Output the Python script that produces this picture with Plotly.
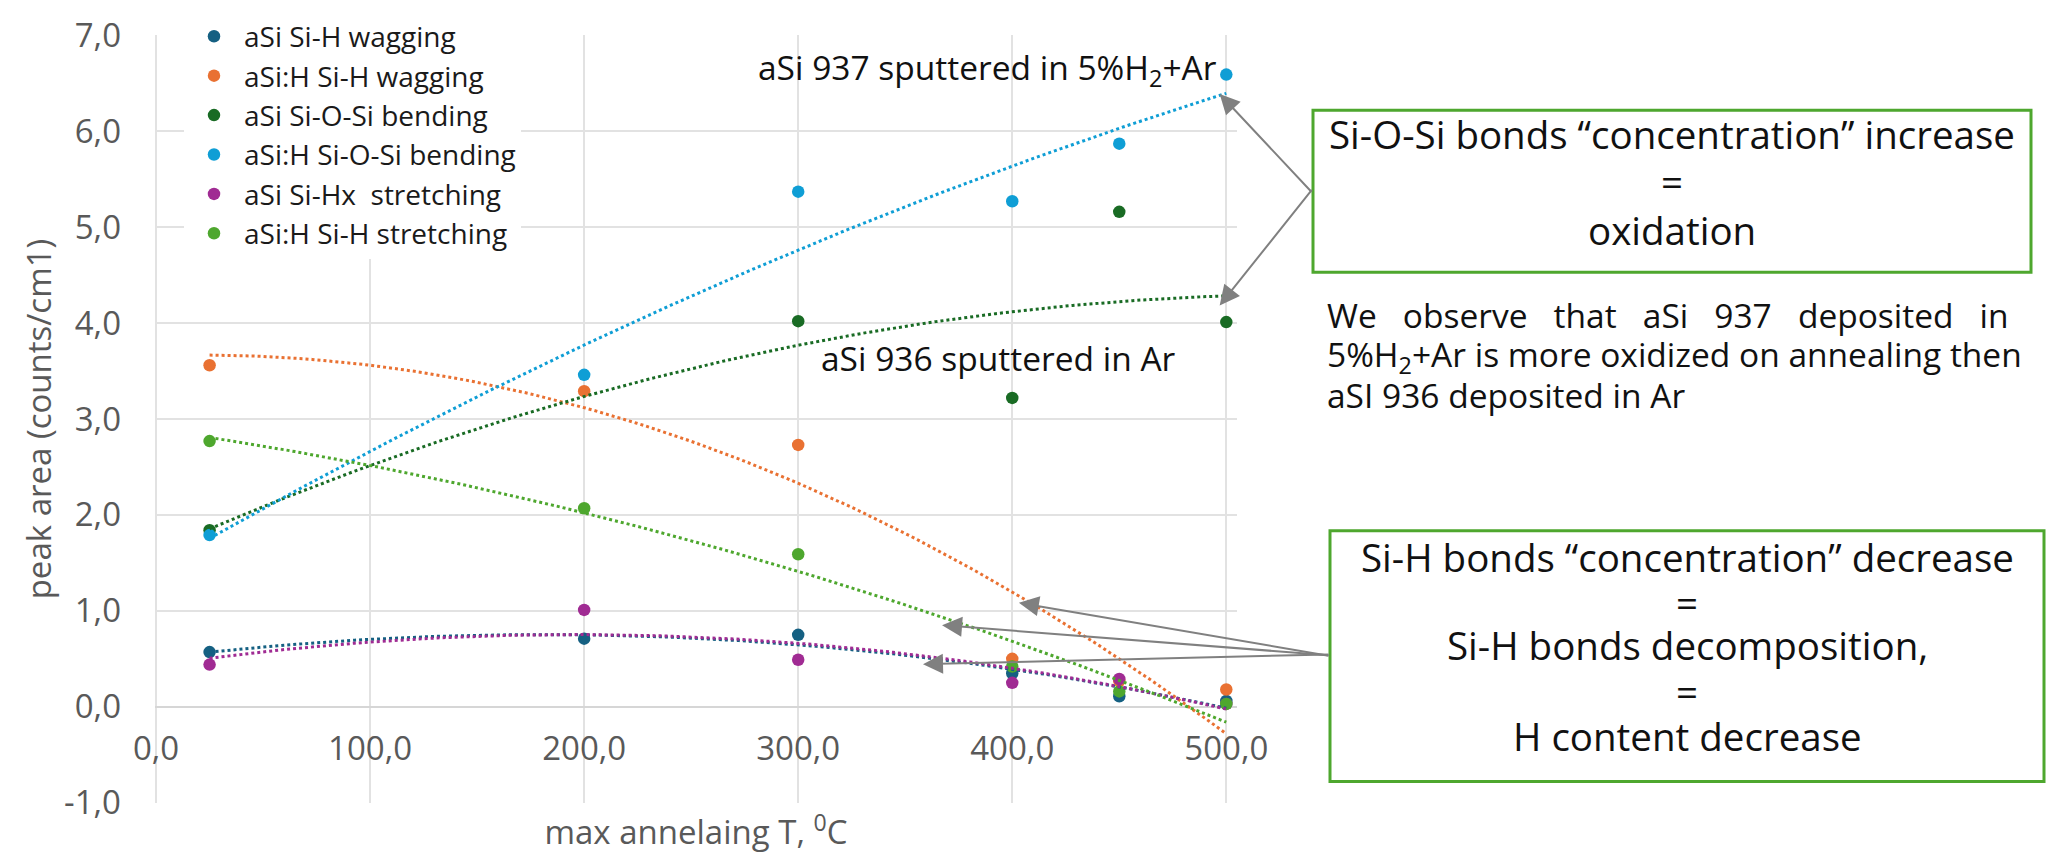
import numpy as np
import plotly.graph_objects as go

# ---------------- data ----------------
temps = [25, 200, 300, 400, 450, 500]

series_names = [
    "aSi Si-H wagging",
    "aSi:H Si-H wagging",
    "aSi Si-O-Si bending",
    "aSi:H Si-O-Si bending",
    "aSi Si-Hx  stretching",
    "aSi:H Si-H stretching",
]
asi_sih_wagging = [0.57, 0.71, 0.75, 0.35, 0.11, 0.06]
asih_sih_wagging = [3.56, 3.29, 2.73, 0.50, 0.27, 0.18]
asi_siosi_bending = [1.84, None, 4.02, 3.22, 5.16, 4.01]
asih_siosi_bending = [1.79, 3.46, 5.37, 5.27, 5.87, 6.59]
asi_sihx_stretching = [0.44, 1.01, 0.49, 0.25, 0.29, 0.03]
asih_sih_stretching = [2.77, 2.07, 1.59, 0.42, 0.16, 0.03]

series_values = [
    asi_sih_wagging,
    asih_sih_wagging,
    asi_siosi_bending,
    asih_siosi_bending,
    asi_sihx_stretching,
    asih_sih_stretching,
]
colors = ["#156082", "#E97132", "#196B24", "#0F9ED5", "#A02B93", "#4EA72E"]

x_ticks = [0, 100, 200, 300, 400, 500]
y_ticks = [-1, 0, 1, 2, 3, 4, 5, 6, 7]
x_range = [-0.5, 505]
y_range = [-1.003, 7.003]

box1_lines = ["Si-O-Si bonds \u201cconcentration\u201d increase", "=", "oxidation"]
box2_lines = ["Si-H bonds \u201cconcentration\u201d decrease", "=",
              "Si-H bonds decomposition,", "=", "H content decrease"]
note_lines = [
    "We \u00a0\u00a0observe \u00a0\u00a0that \u00a0\u00a0aSi \u00a0\u00a0937 \u00a0\u00a0deposited \u00a0\u00a0in",
    "5%H<sub>2</sub>+Ar is more oxidized on annealing then",
    "aSI 936 deposited in Ar",
]


def fmt(v):
    return f"{v:.1f}".replace(".", ",")


# ---------------- layout geometry (pixels) ----------------
W, H = 2048, 857
PL, PR, PT, PB = 155, 1237, 23, 810  # plot area edges
VOFF = 10  # visual offset of text centre vs. anchor


def px_x(px):
    return (px - PL) / (PR - PL)


def px_y(py):
    return (PB - py) / (PB - PT)


fig = go.Figure()

# markers
for name, vals, col in zip(series_names, series_values, colors):
    fig.add_trace(go.Scatter(
        x=temps, y=vals, mode="markers", name=name,
        marker=dict(color=col, size=12.5),
    ))

# polynomial (order 2) trendlines, as in the spreadsheet chart
for vals, col in zip(series_values, colors):
    xs = np.array([t for t, v in zip(temps, vals) if v is not None], dtype=float)
    ys = np.array([v for v in vals if v is not None], dtype=float)
    coef = np.polyfit(xs, ys, 2)
    xf = np.linspace(xs.min(), xs.max(), 120)
    fig.add_trace(go.Scatter(
        x=xf, y=np.polyval(coef, xf), mode="lines", showlegend=False,
        hoverinfo="skip", line=dict(color=col, width=3, dash="dot"),
    ))

grid = "#e2e2e2"
axis_font = dict(family="Open Sans", size=33, color="#595959")
zero_pos = (0 - y_range[0]) / (y_range[1] - y_range[0])

fig.update_layout(
    width=W, height=H,
    margin=dict(l=PL, r=W - PR, t=PT, b=H - PB, pad=0),
    paper_bgcolor="white", plot_bgcolor="white",
    separators=",.",
    font=dict(family="Open Sans", color="#595959"),
    showlegend=True,
    legend=dict(
        x=px_x(184), y=px_y(-1), xanchor="left", yanchor="top",
        bgcolor="white", itemwidth=50, tracegroupgap=0,
        entrywidth=380, entrywidthmode="pixels",
        font=dict(family="Open Sans", size=28, color="#1a1a1a"),
    ),
    xaxis=dict(
        range=x_range, tickvals=x_ticks, ticktext=[fmt(v) for v in x_ticks],
        showgrid=True, gridcolor=grid, gridwidth=1.5,
        zeroline=False, showline=False, ticks="",
        anchor="free", position=zero_pos,
        tickfont=axis_font, ticklabelstandoff=19,
        title=dict(text="max annelaing T, <sup>0</sup>C", font=axis_font, standoff=52),
    ),
    yaxis=dict(
        range=y_range, tickvals=y_ticks, ticktext=[fmt(v) for v in y_ticks],
        showgrid=True, gridcolor=grid, gridwidth=1.5,
        zeroline=True, zerolinecolor="#d6d6d6", zerolinewidth=2,
        showline=False, ticks="", ticklabelstandoff=33,
        tickfont=axis_font,
        title=dict(text="peak area (counts/cm1)", font=axis_font, standoff=2),
    ),
)

txt_font = dict(family="Open Sans", size=33.5, color="#111111")
box_font = dict(family="Open Sans", size=38.5, color="#111111")


def label(text, cx, cy, font, xanchor="center"):
    return dict(text=text, xref="paper", yref="paper",
                x=px_x(cx), y=px_y(cy - VOFF), xanchor=xanchor, yanchor="middle",
                align=xanchor if xanchor != "center" else "center",
                showarrow=False, font=font)


annotations = [
    label("aSi 937 sputtered in 5%H<sub>2</sub>+Ar", 987, 68, txt_font),
    label("aSi 936 sputtered in Ar", 998, 364, txt_font),
]
for line, cy in zip(box1_lines, [134.5, 183, 232.5]):
    annotations.append(label(line, 1672, cy, box_font))
for line, cy in zip(box2_lines, [568, 614, 658, 705, 751]):
    annotations.append(label(line, 1687, cy, box_font))
for line, cy in zip(note_lines, [320, 362, 402]):
    annotations.append(label(line, 1325, cy, txt_font, xanchor="left"))

# arrows: (tip x data, tip y data, tail x px, tail y px)
arrow_specs = [
    (496.9, 6.389, 1313, 183),
    (496.9, 4.183, 1313, 183),
    (403.1, 1.084, 1330, 658),
    (367.2, 0.851, 1330, 658),
    (358.3, 0.444, 1330, 658),
]
for tx, ty, sx, sy in arrow_specs:
    tip_px = PL + (tx - x_range[0]) / (x_range[1] - x_range[0]) * (PR - PL)
    tip_py = PB - (ty - y_range[0]) / (y_range[1] - y_range[0]) * (PB - PT)
    annotations.append(dict(
        text="", x=tx, y=ty, xref="x", yref="y",
        ax=sx - tip_px, ay=sy - tip_py, axref="pixel", ayref="pixel",
        showarrow=True, arrowhead=2, arrowsize=2, arrowwidth=2,
        arrowcolor="#808080", standoff=0, startstandoff=0,
    ))

fig.update_layout(annotations=annotations)

shapes = [
    dict(type="rect", xref="paper", yref="paper",
         x0=px_x(1313), x1=px_x(2031), y0=px_y(266), y1=px_y(100),
         line=dict(color="#4EA72E", width=3), fillcolor="rgba(0,0,0,0)", layer="above"),
    dict(type="rect", xref="paper", yref="paper",
         x0=px_x(1330), x1=px_x(2044), y0=px_y(788), y1=px_y(531),
         line=dict(color="#4EA72E", width=3), fillcolor="rgba(0,0,0,0)", layer="above"),
]
fig.update_layout(shapes=shapes)

fig.write_html("out.html")
